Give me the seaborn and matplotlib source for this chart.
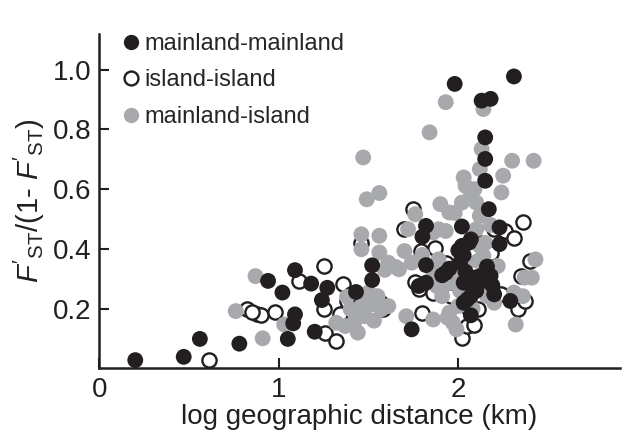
import matplotlib
matplotlib.use("Agg")
import matplotlib.pyplot as plt
import seaborn as sns
import pandas as pd
from matplotlib.lines import Line2D

# mainland-mainland (filled black)
mm_x = [0.20, 0.47, 0.56, 0.78, 0.94, 1.02, 1.09, 1.09, 1.08, 1.05, 1.18, 1.27, 1.24, 1.20,
        1.43, 1.52, 1.52, 1.74, 1.82, 1.80, 1.82, 1.78, 1.82, 1.91, 1.95, 2.02, 2.02, 2.03,
        2.07, 2.04, 2.03, 2.07, 2.03, 2.07, 2.12, 2.16, 2.14, 2.19, 2.20, 2.23, 2.23, 2.29,
        2.17, 2.15, 2.15, 2.15, 2.13, 2.18, 1.98, 2.31, 2.01, 2.09, 2.06, 2.05, 1.93, 2.10,
        2.18, 2.00]
mm_y = [0.028, 0.039, 0.099, 0.083, 0.293, 0.254, 0.329, 0.181, 0.151, 0.099, 0.284, 0.270,
        0.229, 0.123, 0.256, 0.345, 0.296, 0.131, 0.477, 0.441, 0.346, 0.276, 0.287, 0.312,
        0.334, 0.475, 0.410, 0.379, 0.432, 0.324, 0.287, 0.242, 0.220, 0.178, 0.309, 0.341,
        0.293, 0.278, 0.248, 0.472, 0.416, 0.226, 0.533, 0.628, 0.701, 0.773, 0.896, 0.902,
        0.952, 0.977, 0.354, 0.304, 0.421, 0.231, 0.320, 0.260, 0.310, 0.395]

# island-island (open circles)
ii_x = [0.61, 0.82, 0.88, 0.90, 0.98, 1.11, 1.25, 1.25, 1.26, 1.32, 1.34, 1.36, 1.38, 1.46,
        1.58, 1.70, 1.75, 1.79, 1.80, 1.78, 1.86, 1.87, 1.93, 1.96, 2.02, 2.05, 2.09, 2.11,
        2.12, 2.18, 2.20, 2.26, 2.31, 2.36, 2.35, 2.40, 2.33, 2.37, 2.14, 1.57, 0.85, 1.40,
        1.76, 1.98, 2.24, 2.06]
ii_y = [0.028, 0.198, 0.181, 0.178, 0.189, 0.293, 0.343, 0.198, 0.120, 0.092, 0.181, 0.282,
        0.226, 0.421, 0.198, 0.466, 0.533, 0.393, 0.187, 0.265, 0.254, 0.404, 0.354, 0.242,
        0.103, 0.142, 0.147, 0.198, 0.421, 0.388, 0.466, 0.460, 0.438, 0.490, 0.309, 0.360,
        0.198, 0.226, 0.265, 0.220, 0.188, 0.250, 0.290, 0.310, 0.250, 0.200]

# mainland-island (filled grey)
mi_x = [0.76, 0.87, 0.91, 1.03, 1.32, 1.37, 1.40, 1.42, 1.44, 1.46, 1.48, 1.49, 1.50, 1.55,
        1.57, 1.61, 1.61, 1.56, 1.46, 1.46, 1.56, 1.49, 1.56, 1.47, 1.67, 1.70, 1.74, 1.72,
        1.76, 1.71, 1.86, 1.89, 1.93, 1.90, 1.95, 1.89, 1.91, 1.95, 1.97, 2.00, 1.95, 1.98,
        2.03, 2.04, 2.02, 2.07, 2.10, 2.12, 2.12, 2.13, 2.14, 1.93, 1.84, 2.25, 2.24, 2.30,
        2.42, 2.12, 2.14, 2.16, 2.20, 2.22, 2.31, 2.32, 2.37, 2.41, 2.43, 2.36, 2.05, 1.86,
        1.86, 1.88, 1.99, 2.10, 1.43, 1.52, 1.53, 1.59, 1.65, 1.80, 1.92, 1.94, 2.01, 2.08,
        2.15, 2.18, 1.98, 2.09, 2.11, 1.38]
mi_y = [0.192, 0.309, 0.101, 0.147, 0.153, 0.142, 0.198, 0.153, 0.120, 0.209, 0.175, 0.231,
        0.254, 0.242, 0.198, 0.209, 0.354, 0.388, 0.399, 0.449, 0.444, 0.566, 0.587, 0.706,
        0.332, 0.393, 0.354, 0.466, 0.516, 0.175, 0.164, 0.466, 0.460, 0.550, 0.522, 0.365,
        0.242, 0.187, 0.153, 0.209, 0.287, 0.321, 0.639, 0.611, 0.555, 0.578, 0.555, 0.511,
        0.667, 0.734, 0.868, 0.891, 0.790, 0.645, 0.589, 0.695, 0.695, 0.410, 0.377, 0.242,
        0.220, 0.343, 0.254, 0.147, 0.304, 0.304, 0.365, 0.242, 0.354, 0.321, 0.455, 0.276,
        0.131, 0.466, 0.180, 0.215, 0.160, 0.330, 0.340, 0.380, 0.280, 0.170, 0.260, 0.200,
        0.420, 0.480, 0.520, 0.600, 0.360, 0.240]

labels = ["mainland-mainland", "island-island", "mainland-island"]
x_ticks = [0, 1, 2]
y_ticks = [0.2, 0.4, 0.6, 0.8, 1.0]

BLACK = "#231f20"
GREY = "#a7a9ac"

sns.set_style("ticks")
plt.rcParams["font.family"] = ["Liberation Sans", "DejaVu Sans"]
plt.rcParams["mathtext.fontset"] = "custom"
plt.rcParams["mathtext.rm"] = "Liberation Sans"
plt.rcParams["mathtext.it"] = "Liberation Sans:italic"

fig = plt.figure(figsize=(6.37, 4.32), dpi=100)
ax = fig.add_axes([0.156, 0.147, 0.817, 0.775])

df_ii = pd.DataFrame({"x": ii_x, "y": ii_y})
df_mi = pd.DataFrame({"x": mi_x, "y": mi_y})
df_mm = pd.DataFrame({"x": mm_x, "y": mm_y})

sns.scatterplot(data=df_ii, x="x", y="y", ax=ax, s=105, facecolor="white",
                edgecolor=BLACK, linewidth=1.7, zorder=2)
sns.scatterplot(data=df_mi, x="x", y="y", ax=ax, s=130, color=GREY,
                edgecolor="none", linewidth=0, zorder=3)
sns.scatterplot(data=df_mm, x="x", y="y", ax=ax, s=130, color=BLACK,
                edgecolor="none", linewidth=0, zorder=4)

ax.set_xlim(0, 2.9)
ax.set_ylim(0, 1.12)
ax.set_xticks(x_ticks)
ax.set_xticklabels([str(t) for t in x_ticks])
ax.set_yticks(y_ticks)
ax.set_yticklabels([f"{t:.1f}" for t in y_ticks])
ax.tick_params(direction="in", length=7, width=1.5, labelsize=20, colors=BLACK, pad=6)
for side in ["left", "bottom"]:
    ax.spines[side].set_linewidth(1.8)
    ax.spines[side].set_color(BLACK)
sns.despine(ax=ax)

ax.set_xlabel("log geographic distance (km)", fontsize=20, color=BLACK, labelpad=1)
ax.set_ylabel(r"$F'_{\mathrm{ST}}/(1$- $F'_{\mathrm{ST}})$", fontsize=21, color=BLACK, labelpad=4)

handles = [
    Line2D([], [], marker="o", linestyle="none", markersize=11, markerfacecolor=BLACK, markeredgecolor=BLACK, markeredgewidth=0),
    Line2D([], [], marker="o", linestyle="none", markersize=10, markerfacecolor="white", markeredgecolor=BLACK, markeredgewidth=1.7),
    Line2D([], [], marker="o", linestyle="none", markersize=11, markerfacecolor=GREY, markeredgecolor=GREY, markeredgewidth=0),
]
leg = ax.legend(handles, labels, loc="upper left", frameon=False, fontsize=17,
                handletextpad=0.1, handlelength=1.0, labelspacing=0.62,
                borderaxespad=0.2, bbox_to_anchor=(0.01, 1.045))

fig.savefig("out.png", dpi=100)
